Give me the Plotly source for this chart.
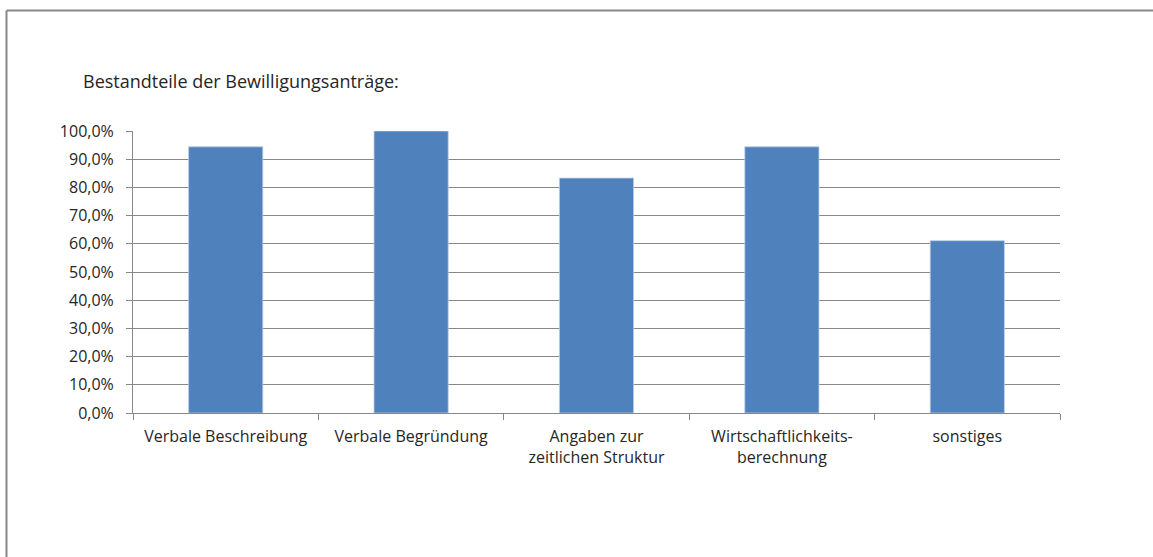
import plotly.graph_objects as go

categories = ["Verbale Beschreibung", "Verbale Begründung", "Angaben zur<br>zeitlichen Struktur",
              "Wirtschaftlichkeits-<br>berechnung", "sonstiges"]
values = [0.944, 1.0, 0.833, 0.944, 0.611]
tick_vals = [0, 0.1, 0.2, 0.3, 0.4, 0.5, 0.6, 0.7, 0.8, 0.9, 1.0]

W, H = 1153, 557
L, R, T, B = 133, 93, 131, 144
pw, ph = W - L - R, H - T - B

fig = go.Figure(go.Bar(
    x=categories, y=values,
    marker=dict(color="#4F81BD", line=dict(color="#B9CDE5", width=0.8)),
))

font = "Open Sans"
fig.update_layout(
    width=W, height=H,
    margin=dict(l=L, r=R, t=T, b=B),
    paper_bgcolor="white", plot_bgcolor="white",
    separators=",.",
    bargap=0.6,
    showlegend=False,
    font=dict(family=font, size=16, color="#262626"),
    title=dict(text="Bestandteile der Bewilligungsanträge:", xref="container", yref="container",
               x=83 / W, y=1 - 82 / H, xanchor="left", yanchor="middle",
               font=dict(family=font, size=18, color="#262626")),
    xaxis=dict(showline=True, linecolor="#888888", linewidth=1, ticks="outside", ticklen=6,
               tickcolor="#888888", tickson="boundaries", showgrid=False,
               tickfont=dict(size=16), ticklabelstandoff=9),
    yaxis=dict(range=[0, 1.0], tickvals=tick_vals, tickformat=".1%", showline=True,
               linecolor="#888888", linewidth=1, ticks="outside", ticklen=6, tickcolor="#888888",
               showgrid=True, gridcolor="#888888", gridwidth=1, zeroline=False,
               tickfont=dict(size=16), ticklabelstandoff=9),
)

# outer chart border (left and top visible)
x_left = (6.5 - L) / pw
y_top = 1 + (T - 10.5) / ph
fig.add_shape(type="line", xref="paper", yref="paper", x0=x_left, x1=x_left, y0=y_top, y1=-2,
              line=dict(color="#888888", width=2))
fig.add_shape(type="line", xref="paper", yref="paper", x0=x_left, x1=2, y0=y_top, y1=y_top,
              line=dict(color="#888888", width=2))

fig.write_html("out.html", config={"displayModeBar": False},
               post_script="document.body.style.margin='0';document.body.style.overflow='hidden';")
